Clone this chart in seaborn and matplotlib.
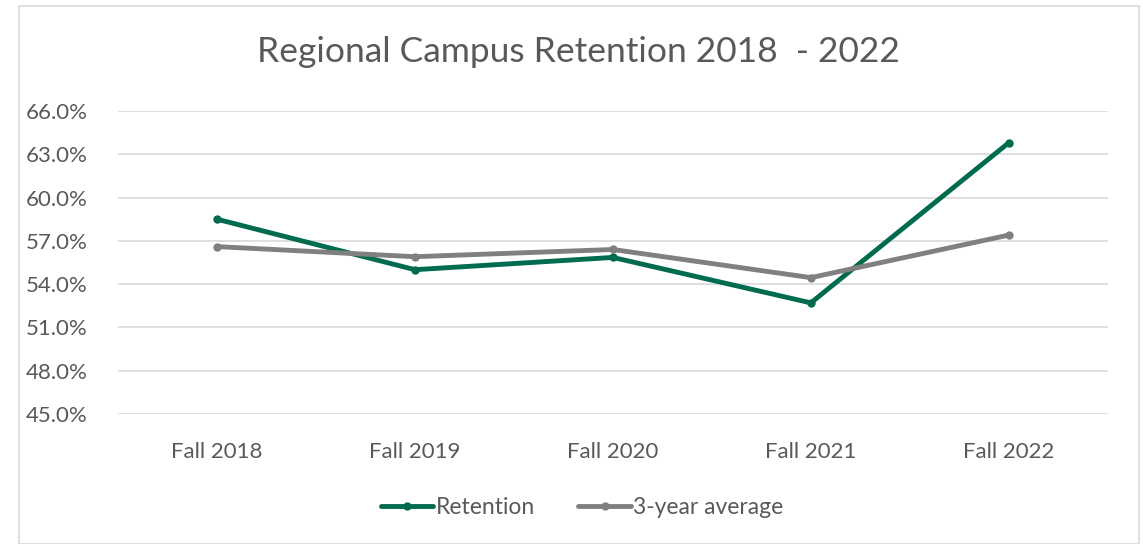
import pandas as pd
import matplotlib.pyplot as plt
import seaborn as sns
from matplotlib.patches import Rectangle
from matplotlib.ticker import FuncFormatter

sns.set_style("white")
plt.rcParams['font.family'] = ['Lato', 'DejaVu Sans']

terms = ["Fall 2018", "Fall 2019", "Fall 2020", "Fall 2021", "Fall 2022"]
retention = [58.5, 55.0, 55.85, 52.7, 63.8]
three_year_avg = [56.6, 55.9, 56.4, 54.45, 57.4]

df = pd.DataFrame({
    "Term": terms * 2,
    "Rate": retention + three_year_avg,
    "Series": ["Retention"] * len(terms) + ["3-year average"] * len(terms),
})

text_col = "#595959"
fig = plt.figure(figsize=(11.43, 5.44), dpi=100)
ax = fig.add_axes([0.1032, 0.239, 0.866, 0.557])

sns.lineplot(data=df, x="Term", y="Rate", hue="Series", sort=False,
             palette={"Retention": "#006B4E", "3-year average": "#808080"},
             hue_order=["Retention", "3-year average"],
             marker="o", markersize=6, markeredgewidth=0, linewidth=3.5, ax=ax)

ax.set_ylim(45, 66)
ax.set_yticks(range(45, 67, 3))
ax.set_xlim(-0.5, 4.5)
ax.yaxis.set_major_formatter(FuncFormatter(lambda v, p: f"{v:.1f}%"))
ax.grid(axis="y", color="#d9d9d9", linewidth=1.2)
ax.set_axisbelow(True)
for s in ax.spines.values():
    s.set_visible(False)
ax.tick_params(axis="both", length=0, labelsize=16, colors=text_col)
ax.tick_params(axis="x", pad=20)
ax.tick_params(axis="y", pad=22)
ax.set_xlabel("")
ax.set_ylabel("")

fig.text(0.506, 0.905, "Regional Campus Retention 2018  - 2022", ha="center", va="center",
         fontsize=25.5, color=text_col)

leg = ax.legend(loc="upper center", bbox_to_anchor=(0.469, -0.205), ncol=2, frameon=False,
                fontsize=16.5, handlelength=2.3, handletextpad=0.1, columnspacing=1.9)
for t in leg.get_texts():
    t.set_color(text_col)

fig.patches.append(Rectangle((0.0166, 0.0), 0.98, 0.989, transform=fig.transFigure,
                             fill=False, edgecolor="#d9d9d9", linewidth=1.2))

fig.savefig("out.png", dpi=100)
